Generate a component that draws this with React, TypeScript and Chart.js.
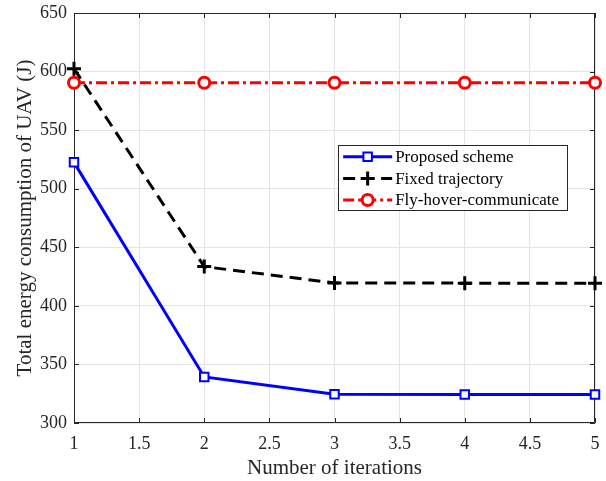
import React, { useEffect, useRef } from "react";
import { Chart, registerables } from "chart.js";

Chart.register(...registerables);

const iterations = [1, 2, 3, 4, 5];
const proposedScheme = [522.5, 339.3, 324.6, 324.4, 324.4];
const fixedTrajectory = [602.5, 433.5, 419.5, 419.4, 419.4];
const flyHoverCommunicate = [590.5, 590.5, 590.5, 590.5, 590.5];
const xTickValues = [1, 1.5, 2, 2.5, 3, 3.5, 4, 4.5, 5];
const yTickValues = [300, 350, 400, 450, 500, 550, 600, 650];
const seriesNames = ["Proposed scheme", "Fixed trajectory", "Fly-hover-communicate"];

const FONT = "'Liberation Serif', 'Times New Roman', serif";
const AXIS_COLOR = "#262626";

const toPoints = (ys: number[]) => iterations.map((x, i) => ({ x, y: ys[i] }));

function drawMarker(ctx: CanvasRenderingContext2D, ds: any, x: number, y: number) {
  const r = ds.pointRadius;
  ctx.save();
  ctx.setLineDash([]);
  ctx.lineWidth = ds.pointBorderWidth;
  ctx.strokeStyle = ds.pointBorderColor;
  ctx.fillStyle = ds.pointBackgroundColor || "#ffffff";
  ctx.beginPath();
  if (ds.pointStyle === "rect") {
    const s = Math.SQRT1_2 * r;
    ctx.rect(x - s, y - s, 2 * s, 2 * s);
    ctx.fill();
    ctx.stroke();
  } else if (ds.pointStyle === "circle") {
    ctx.arc(x, y, r, 0, Math.PI * 2);
    ctx.fill();
    ctx.stroke();
  } else if (ds.pointStyle === "cross") {
    ctx.moveTo(x - r, y);
    ctx.lineTo(x + r, y);
    ctx.moveTo(x, y - r);
    ctx.lineTo(x, y + r);
    ctx.stroke();
  }
  ctx.restore();
}

const boxPlugin = {
  id: "matlabBox",
  beforeDatasetsDraw(chart: any) {
    const { ctx, chartArea } = chart;
    const { left, right, top, bottom } = chartArea;
    const xs = chart.scales.x;
    const ys = chart.scales.y;
    ctx.save();
    ctx.strokeStyle = AXIS_COLOR;
    ctx.lineWidth = 1;
    ctx.beginPath();
    ctx.rect(left + 0.5, top + 0.5, right - left - 1, bottom - top - 1);
    ctx.stroke();
    const tl = 5;
    ctx.beginPath();
    xTickValues.forEach((v) => {
      const px = Math.round(xs.getPixelForValue(v)) + 0.5;
      ctx.moveTo(px, bottom);
      ctx.lineTo(px, bottom - tl);
      ctx.moveTo(px, top);
      ctx.lineTo(px, top + tl);
    });
    yTickValues.forEach((v) => {
      const py = Math.round(ys.getPixelForValue(v)) + 0.5;
      ctx.moveTo(left, py);
      ctx.lineTo(left + tl, py);
      ctx.moveTo(right, py);
      ctx.lineTo(right - tl, py);
    });
    ctx.stroke();
    ctx.restore();
  },
};

const legendPlugin = {
  id: "matlabLegend",
  afterDraw(chart: any) {
    const { ctx, chartArea } = chart;
    const w = chartArea.right - chartArea.left;
    const h = chartArea.bottom - chartArea.top;
    const bx = chartArea.left + w * 0.507;
    const by = chartArea.top + h * 0.322;
    const bw = w * 0.44;
    const bh = h * 0.158;
    ctx.save();
    ctx.fillStyle = "#ffffff";
    ctx.fillRect(bx, by, bw, bh);
    ctx.strokeStyle = AXIS_COLOR;
    ctx.lineWidth = 1;
    ctx.strokeRect(Math.round(bx) + 0.5, Math.round(by) + 0.5, Math.round(bw), Math.round(bh));
    const rowH = bh / 3;
    chart.data.datasets.forEach((ds: any, i: number) => {
      const cy = by + rowH * (i + 0.5) + 1;
      const x0 = bx + 5;
      const x1 = bx + 54;
      ctx.strokeStyle = ds.borderColor;
      ctx.lineWidth = ds.borderWidth;
      ctx.setLineDash(ds.borderDash || []);
      ctx.beginPath();
      ctx.moveTo(x0, cy);
      ctx.lineTo(x1, cy);
      ctx.stroke();
      ctx.setLineDash([]);
      drawMarker(ctx, ds, (x0 + x1) / 2, cy);
      ctx.fillStyle = "#000000";
      ctx.font = `17px ${FONT}`;
      ctx.textBaseline = "middle";
      ctx.textAlign = "left";
      ctx.fillText(ds.label, x1 + 3, cy + 1);
    });
    ctx.restore();
  },
};

export default function App() {
  const canvasRef = useRef<HTMLCanvasElement | null>(null);

  useEffect(() => {
    document.body.style.margin = "0";
    const canvas = canvasRef.current;
    if (!canvas) return;
    const chart = new Chart(canvas, {
      type: "line",
      data: {
        datasets: [
          {
            label: seriesNames[0],
            data: toPoints(proposedScheme),
            borderColor: "#0000ff",
            backgroundColor: "#ffffff",
            borderWidth: 3,
            pointStyle: "rect",
            pointRadius: 6,
            pointBorderWidth: 2,
            pointBackgroundColor: "#ffffff",
            pointBorderColor: "#0000ff",
            clip: false,
          },
          {
            label: seriesNames[1],
            data: toPoints(fixedTrajectory),
            borderColor: "#000000",
            backgroundColor: "#000000",
            borderWidth: 3,
            borderDash: [12, 7],
            pointStyle: "cross",
            pointRadius: 7,
            pointBorderWidth: 3,
            pointBorderColor: "#000000",
            clip: false,
          },
          {
            label: seriesNames[2],
            data: toPoints(flyHoverCommunicate),
            borderColor: "#ff0000",
            backgroundColor: "#ffffff",
            borderWidth: 3,
            borderDash: [11, 4, 3, 4],
            pointStyle: "circle",
            pointRadius: 5.5,
            pointBorderWidth: 3,
            pointBackgroundColor: "#ffffff",
            pointBorderColor: "#ff0000",
            clip: false,
          },
        ] as any,
      },
      options: {
        animation: false,
        responsive: false,
        maintainAspectRatio: false,
        layout: { padding: { top: 13, right: 11, left: 0, bottom: 0 } },
        plugins: {
          legend: { display: false },
          tooltip: { enabled: false },
        },
        scales: {
          x: {
            type: "linear",
            min: 1,
            max: 5,
            afterFit: (s: any) => {
              s.height = 58;
              s.paddingLeft = 0;
              s.paddingRight = 0;
            },
            afterBuildTicks: (s: any) => {
              s.ticks = xTickValues.map((v) => ({ value: v }));
            },
            grid: { color: "#e3e3e3", lineWidth: 1, drawTicks: false },
            border: { display: false },
            ticks: {
              color: AXIS_COLOR,
              font: { family: FONT, size: 18 },
              padding: 10,
              maxRotation: 0,
              callback: (v: any) => String(v),
            },
            title: {
              display: true,
              text: "Number of iterations",
              color: AXIS_COLOR,
              font: { family: FONT, size: 21 },
              padding: { top: 0, bottom: 0 },
            },
          },
          y: {
            type: "linear",
            min: 300,
            max: 650,
            afterFit: (s: any) => {
              s.width = 74;
              s.paddingTop = 0;
              s.paddingBottom = 0;
            },
            afterBuildTicks: (s: any) => {
              s.ticks = yTickValues.map((v) => ({ value: v }));
            },
            grid: { color: "#e3e3e3", lineWidth: 1, drawTicks: false },
            border: { display: false },
            ticks: {
              color: AXIS_COLOR,
              font: { family: FONT, size: 18 },
              padding: 7,
              callback: (v: any) => String(v),
            },
            title: {
              display: true,
              text: "Total energy consumption of UAV (J)",
              color: AXIS_COLOR,
              font: { family: FONT, size: 21 },
              padding: { top: 13, bottom: 0 },
            },
          },
        },
      } as any,
      plugins: [boxPlugin, legendPlugin],
    });
    return () => chart.destroy();
  }, []);

  return (
    <div style={{ position: "absolute", left: 0, top: 0, width: 606, height: 481, background: "#ffffff" }}>
      <canvas ref={canvasRef} width={606} height={481} style={{ width: 606, height: 481 }} />
    </div>
  );
}
